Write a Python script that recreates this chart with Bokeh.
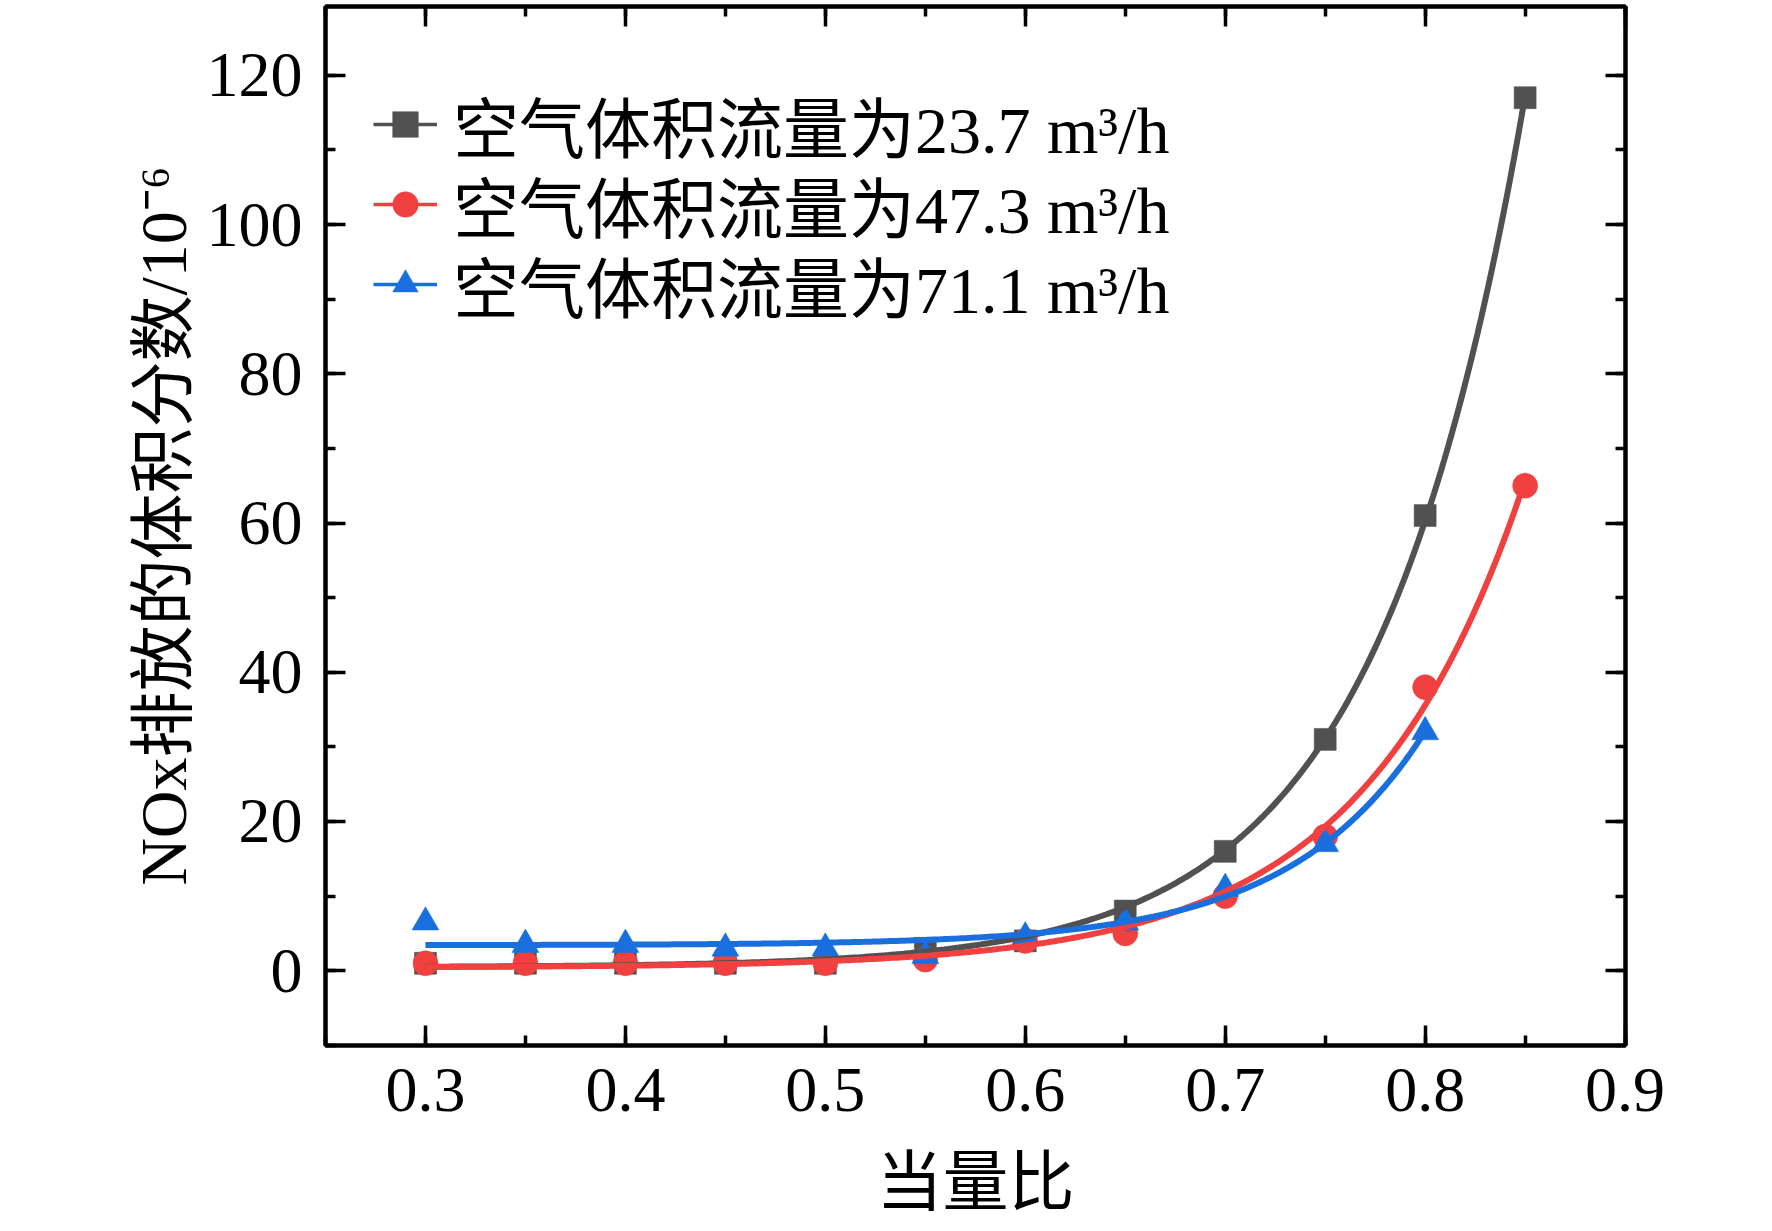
import numpy as np
from bokeh.plotting import figure
from bokeh.models import (Range1d, LinearAxis, SingleIntervalTicker, Legend, LegendItem,
                          CustomJSTickFormatter)
from bokeh.embed import file_html
from bokeh.resources import INLINE

# ---- data ----
ratio = [0.30, 0.35, 0.40, 0.45, 0.50, 0.55, 0.60, 0.65, 0.70, 0.75, 0.80, 0.85]
nox_23_7 = [1, 1, 1, 1, 1, 3, 4, 8, 16, 31, 61, 117]
nox_47_3 = [1, 1, 1, 1, 1, 1.5, 4, 5, 10, 18, 38, 65]
ratio_71_1 = [0.30, 0.35, 0.40, 0.45, 0.50, 0.55, 0.60, 0.65, 0.70, 0.75, 0.80]
nox_71_1 = [6.5, 3.5, 3.5, 3, 3, 2, 4.5, 6.5, 11, 17, 32]

series_labels = ["空气体积流量为23.7 m³/h", "空气体积流量为47.3 m³/h", "空气体积流量为71.1 m³/h"]
x_title = "当量比"
y_title = "NOx排放的体积分数/10⁻⁶"

colors = ["#515151", "#F14040", "#1A6FDF"]
markers = ["square", "circle", "triangle"]
msizes = [22, 25, 27]

FONT = "Liberation Serif, Noto Sans CJK SC"


def exp_fit(x, y):
    """Exponential growth fit y = y0 + A*exp(b*x) of the data (like the Origin fit curves)."""
    x = np.asarray(x, float)
    y = np.asarray(y, float)
    best = None
    for b in np.linspace(2, 30, 2801):
        M = np.column_stack([np.ones_like(x), np.exp(b * (x - x[-1]))])
        coef, *_ = np.linalg.lstsq(M, y, rcond=None)
        sse = float(np.sum((M @ coef - y) ** 2))
        if best is None or sse < best[0]:
            best = (sse, coef, b)
    _, coef, b = best
    xs = np.linspace(x[0], x[-1], 300)
    return xs, coef[0] + coef[1] * np.exp(b * (xs - x[-1]))


p = figure(width=1756, height=1221,
           x_range=Range1d(0.25, 0.9002), y_range=Range1d(-10.02, 129.22),
           output_backend="svg", toolbar_location=None,
           min_border_left=325, min_border_right=131,
           min_border_top=6, min_border_bottom=173,
           x_axis_label=x_title, y_axis_label=y_title)
p.grid.visible = False
p.outline_line_color = "black"
p.outline_line_width = 4
p.background_fill_color = "white"
p.border_fill_color = "white"

xt = SingleIntervalTicker(interval=0.1, num_minor_ticks=2)
yt = SingleIntervalTicker(interval=20, num_minor_ticks=2)
p.xaxis.ticker = xt
p.yaxis.ticker = yt


def style_axis(ax, show_labels=True):
    ax.axis_line_width = 4
    ax.axis_line_color = "black"
    ax.major_tick_in = 20
    ax.major_tick_out = 0
    ax.minor_tick_in = 10
    ax.minor_tick_out = 0
    ax.major_tick_line_width = 3.5
    ax.minor_tick_line_width = 3.5
    ax.major_tick_line_color = "black"
    ax.minor_tick_line_color = "black"
    if show_labels:
        ax.major_label_text_font = FONT
        ax.major_label_text_font_size = "64px"
        ax.major_label_text_color = "black"
        ax.axis_label_text_font = FONT
        ax.axis_label_text_font_size = "66px"
        ax.axis_label_text_font_style = "normal"
        ax.axis_label_text_color = "black"
    else:
        ax.formatter = CustomJSTickFormatter(code="return ''")
        ax.major_label_standoff = 0


style_axis(p.xaxis[0])
style_axis(p.yaxis[0])
p.xaxis[0].major_label_standoff = 23
p.xaxis[0].axis_label_standoff = 32
p.yaxis[0].major_label_standoff = 23
p.yaxis[0].axis_label_standoff = 4

top = LinearAxis(ticker=xt)
style_axis(top, False)
p.add_layout(top, "above")
right = LinearAxis(ticker=yt)
style_axis(right, False)
p.add_layout(right, "right")

xs_list = [ratio, ratio, ratio_71_1]
ys_list = [nox_23_7, nox_47_3, nox_71_1]

scatter_r = []
for xv, yv, c, m, s in zip(xs_list, ys_list, colors, markers, msizes):
    scatter_r.append(p.scatter(xv, yv, marker=m, size=s, fill_color=c, line_color=c, line_width=0.5))

for xv, yv, c in zip(xs_list, ys_list, colors):
    fx, fy = exp_fit(xv, yv)
    p.line(fx, fy, line_color=c, line_width=6)

# one legend box per row so that the row pitch matches the reference
legend_bottoms = [871, 791, 711]
for lab, c, sr, yb in zip(series_labels, colors, scatter_r, legend_bottoms):
    # legend-only line sample (lies outside the visible range)
    dummy = p.line([0.0, 0.1], [-500, -500], line_color=c, line_width=3.5)
    lg = Legend(items=[LegendItem(label=lab, renderers=[dummy, sr])], location=(48, yb))
    lg.glyph_width = 64
    lg.glyph_height = 100
    lg.label_height = 100
    lg.label_standoff = 16
    lg.spacing = 0
    lg.padding = 0
    lg.margin = 0
    lg.label_text_font = FONT
    lg.label_text_font_size = "66px"
    lg.label_text_color = "black"
    lg.border_line_color = None
    lg.background_fill_alpha = 0
    p.add_layout(lg, "center")

open("out.html", "w").write(file_html(p, INLINE))
